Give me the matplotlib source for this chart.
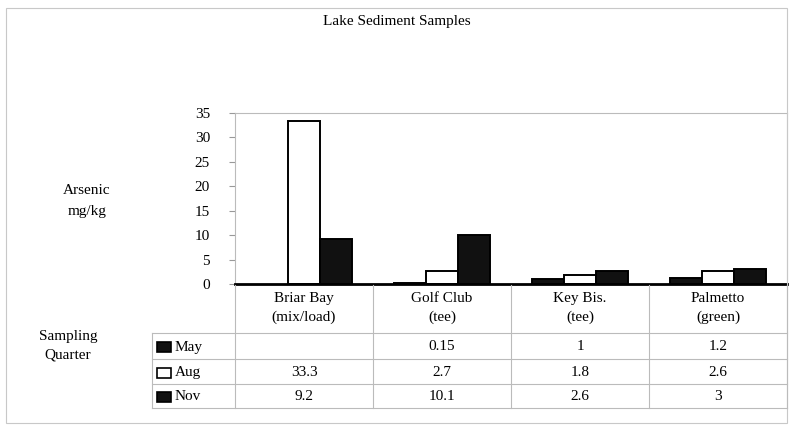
import matplotlib
matplotlib.use("Agg")
import matplotlib.pyplot as plt
from matplotlib.patches import Rectangle
from matplotlib.lines import Line2D

plt.rcParams['font.family'] = ['Liberation Serif', 'DejaVu Serif']

categories = ["Briar Bay\n(mix/load)", "Golf Club\n(tee)", "Key Bis.\n(tee)", "Palmetto\n(green)"]
series_names = ["May", "Aug", "Nov"]
may = [None, 0.15, 1, 1.2]
aug = [33.3, 2.7, 1.8, 2.6]
nov = [9.2, 10.1, 2.6, 3]
series = [may, aug, nov]
face = ["#111111", "white", "#111111"]
yticks = [0, 5, 10, 15, 20, 25, 30, 35]

W, H = 789, 430
fig = plt.figure(figsize=(W / 100, H / 100), dpi=100)

def fx(x):
    return x / W

def fy(y):
    return 1 - y / H

# outer frame
fig.add_artist(Rectangle((fx(6), fy(423)), fx(781), fy(8) - fy(423),
                         transform=fig.transFigure, fill=False, ec="#c8c8c8", lw=0.8))

x_left, x_right, y_top, y_zero = 235, 787, 113, 284
ax = fig.add_axes([fx(x_left), fy(y_zero), fx(x_right - x_left), fy(y_top) - fy(y_zero)])
n = len(categories)
bw = 32 / ((x_right - x_left) / n)
for j, vals in enumerate(series):
    for i, v in enumerate(vals):
        if v is None:
            continue
        ax.bar(i + (j - 1) * bw, v, width=bw, color=face[j], edgecolor="black", linewidth=1.4, zorder=3)
ax.set_xlim(-0.5, n - 0.5)
ax.set_ylim(0, 35)
ax.set_yticks(yticks)
ax.set_yticklabels([str(t) for t in yticks], fontsize=11)
ax.set_xticks([])
ax.tick_params(axis='y', direction='out', length=4, color="#999999", pad=14)
for s in ["top", "right", "left"]:
    ax.spines[s].set_color("#bbbbbb")
    ax.spines[s].set_linewidth(0.8)
ax.spines["bottom"].set_color("black")
ax.spines["bottom"].set_linewidth(2)
ax.spines["bottom"].set_zorder(5)

fig.text(fx(87), fy(201), "Arsenic\nmg/kg", ha="center", va="center", fontsize=11, linespacing=1.75)
fig.text(fx(397), fy(22), "Lake Sediment Samples", ha="center", va="center", fontsize=11)

# data table
col_edges = [x_left + k * (x_right - x_left) / n for k in range(n + 1)]
row_lines = [333, 359, 384, 408]
grid_c = "#bbbbbb"
for xe in col_edges:
    fig.add_artist(Line2D([fx(xe), fx(xe)], [fy(285), fy(row_lines[-1])], transform=fig.transFigure, color=grid_c, lw=0.8))
fig.add_artist(Line2D([fx(152), fx(152)], [fy(row_lines[0]), fy(row_lines[-1])], transform=fig.transFigure, color=grid_c, lw=0.8))
for yl in row_lines:
    fig.add_artist(Line2D([fx(152), fx(x_right)], [fy(yl), fy(yl)], transform=fig.transFigure, color=grid_c, lw=0.8))

for i, c in enumerate(categories):
    xc = (col_edges[i] + col_edges[i + 1]) / 2
    fig.text(fx(xc), fy(308), c, ha="center", va="center", fontsize=11, linespacing=1.5)

for j, name in enumerate(series_names):
    yc = (row_lines[j] + row_lines[j + 1]) / 2 + 1
    fig.add_artist(Rectangle((fx(157), fy(yc + 5)), fx(14), fy(yc - 5) - fy(yc + 5),
                             transform=fig.transFigure, fc=face[j], ec="black", lw=1.2))
    fig.text(fx(175), fy(yc), name, ha="left", va="center", fontsize=11)
    for i, v in enumerate(series[j]):
        if v is None:
            continue
        xc = (col_edges[i] + col_edges[i + 1]) / 2
        fig.text(fx(xc), fy(yc), f"{v:g}", ha="center", va="center", fontsize=11)

fig.text(fx(68), fy(346), "Sampling\nQuarter", ha="center", va="center", fontsize=11, linespacing=1.55)

fig.savefig("out.png", dpi=100)
